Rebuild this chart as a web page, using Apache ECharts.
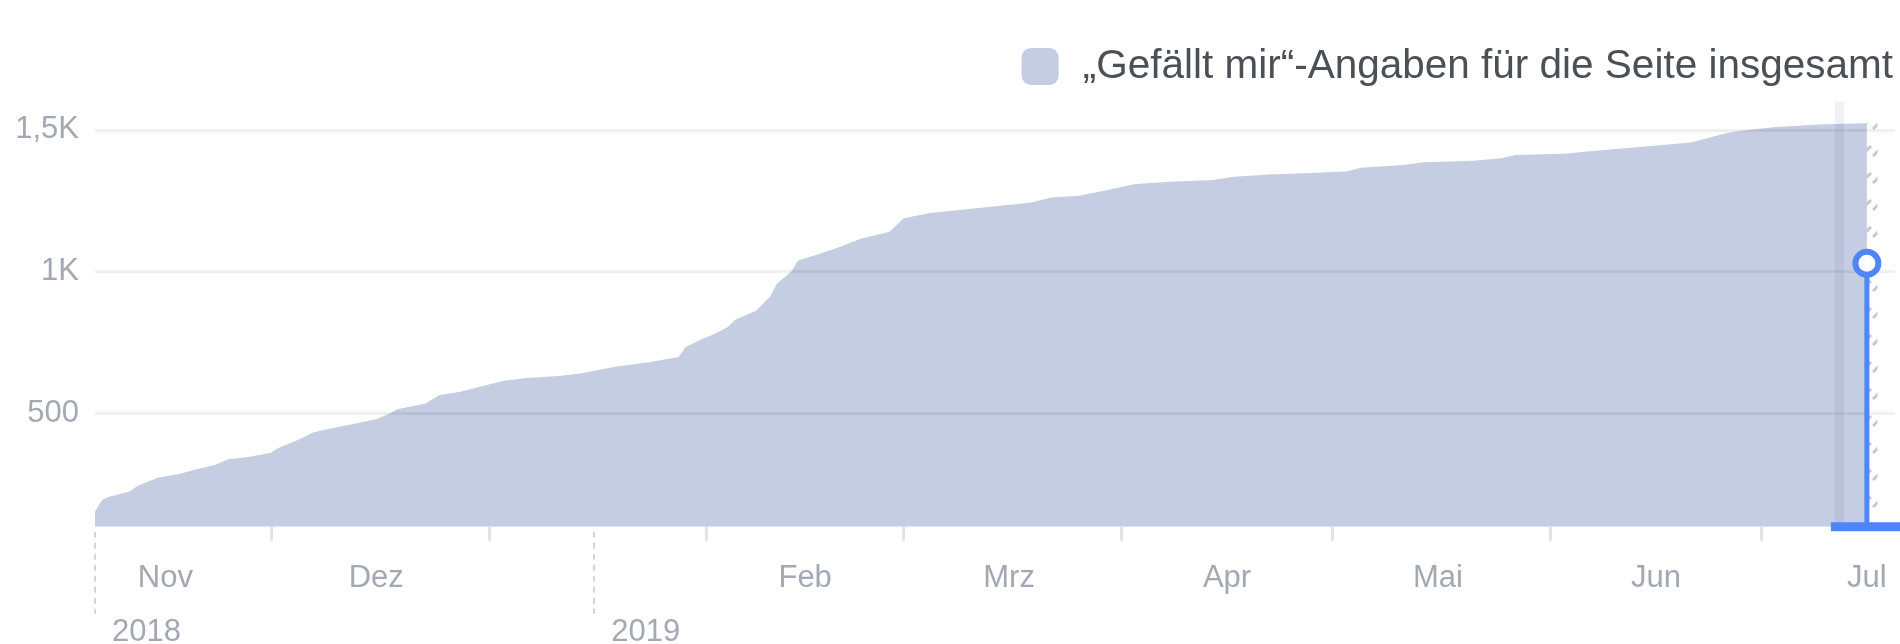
<!DOCTYPE html>
<html>
<head>
<meta charset="utf-8">
<script src="https://cdn.jsdelivr.net/npm/echarts@6/dist/echarts.min.js"></script>
<style>
  html, body { margin: 0; padding: 0; background: #fff; }
  #chart { width: 1900px; height: 644px; }
</style>
</head>
<body>
<div id="chart"></div>
<script>
// total page likes
const dates = [
  '2018-11-06', '2018-11-07', '2018-11-08', '2018-11-09', '2018-11-11', '2018-11-12',
  '2018-11-15', '2018-11-18', '2018-11-20', '2018-11-23', '2018-11-25', '2018-11-28',
  '2018-12-01', '2018-12-02', '2018-12-05', '2018-12-07', '2018-12-09', '2018-12-12',
  '2018-12-16', '2018-12-18', '2018-12-19', '2018-12-23', '2018-12-25', '2018-12-28',
  '2018-12-31', '2019-01-03', '2019-01-06', '2019-01-11', '2019-01-14', '2019-01-19',
  '2019-01-24', '2019-01-28', '2019-01-29', '2019-01-31', '2019-02-02', '2019-02-04',
  '2019-02-05', '2019-02-08', '2019-02-10', '2019-02-11', '2019-02-13', '2019-02-14',
  '2019-02-17', '2019-02-20', '2019-02-23', '2019-02-27', '2019-03-01', '2019-03-05',
  '2019-03-10', '2019-03-14', '2019-03-19', '2019-03-22', '2019-03-26', '2019-03-30',
  '2019-04-03', '2019-04-08', '2019-04-14', '2019-04-17', '2019-04-22', '2019-04-27',
  '2019-05-03', '2019-05-05', '2019-05-11', '2019-05-14', '2019-05-21', '2019-05-25',
  '2019-05-27', '2019-06-03', '2019-06-07', '2019-06-14', '2019-06-21', '2019-06-25',
  '2019-06-27', '2019-07-03', '2019-07-10', '2019-07-16'
]
const likes = [
  153, 195, 206, 212, 225, 244,
  274, 286, 300, 318, 338, 347,
  361, 377, 408, 432, 444, 459,
  479, 500, 514, 535, 565, 576,
  596, 614, 624, 632, 641, 664,
  681, 699, 734, 758, 779, 805,
  829, 862, 911, 958, 1000, 1039,
  1062, 1088, 1117, 1141, 1188, 1208,
  1220, 1231, 1243, 1262, 1268, 1288,
  1309, 1317, 1323, 1335, 1343, 1347,
  1353, 1367, 1376, 1386, 1391, 1400,
  1412, 1416, 1426, 1441, 1456, 1482,
  1494, 1510, 1520, 1524
]

const seriesName = '\u201eGefällt mir\u201c-Angaben für die Seite insgesamt'
const monthStarts = ['2018-12-01', '2019-01-01', '2019-02-01', '2019-03-01', '2019-04-01', '2019-05-01', '2019-06-01', '2019-07-01']
const monthLabelDates = ['2018-11-16', '2018-12-16', '2019-02-15', '2019-03-16', '2019-04-16', '2019-05-16', '2019-06-16', '2019-07-16']
const yearMarks = ['2018-11-06', '2019-01-16']
const monthNames = ['Jan', 'Feb', 'Mrz', 'Apr', 'Mai', 'Jun', 'Jul', 'Aug', 'Sep', 'Okt', 'Nov', 'Dez']
const yTicks = [500, 1000, 1500]
const yTickLabels = ['500', '1K', '1,5K']
const xStart = '2018-11-06'
const xEnd = '2019-07-20'
const hoverDate = '2019-07-12'
const incompleteEnd = '2019-07-17T12:00'
const markerDate = '2019-07-16'
const markerValue = 1030

function day(s) {
  const [d, t] = s.split('T')
  const [y, m, dd] = d.split('-').map(Number)
  const h = t ? Number(t.split(':')[0]) : 0
  return new Date(y, m - 1, dd, h).getTime()
}

// striped fill for the last, not yet complete day
function hatchPattern() {
  const c = document.createElement('canvas')
  c.width = 12
  c.height = 27
  const ctx = c.getContext('2d')
  ctx.strokeStyle = '#bfc7dd'
  ctx.lineWidth = 3
  ctx.beginPath()
  ctx.moveTo(1, 21)
  ctx.lineTo(11, 11)
  ctx.stroke()
  return c
}

const font = "'Liberation Sans', Arial, sans-serif"
const labelColor = '#a3a8b3'
const areaColor = '#c5cde2'
const blue = '#4e86f8'
const lastValue = likes[likes.length - 1]

const chart = echarts.init(document.getElementById('chart'))

const option = {
  animation: false,
  textStyle: { fontFamily: font },
  legend: {
    right: 2,
    top: 41,
    itemWidth: 37,
    itemHeight: 37,
    itemGap: 24,
    textStyle: { fontSize: 40.5, color: '#4b4f56', fontFamily: font, padding: [0, 0, 0, 19] },
    data: [{ name: seriesName, icon: 'roundRect', itemStyle: { color: areaColor, borderWidth: 0 } }],
  },
  grid: { left: 95, right: 5, top: 101.6, bottom: 117.3, outerBoundsMode: 'none', containLabel: false },
  xAxis: [
    {
      type: 'value',
      min: day(xStart),
      max: day(xEnd),
      axisLine: { show: false },
      splitLine: { show: false },
      axisTick: {
        show: true,
        customValues: monthStarts.map(day),
        length: 14,
        lineStyle: { color: '#e2e3e7', width: 3 },
      },
      axisLabel: {
        customValues: monthLabelDates.map(day),
        formatter: (v) => monthNames[new Date(v).getMonth()],
        color: labelColor,
        fontSize: 31,
        margin: 36,
        fontFamily: font,
      },
    },
    {
      type: 'value',
      position: 'bottom',
      offset: 5,
      min: day(xStart),
      max: day(xEnd),
      axisLine: { show: false },
      splitLine: { show: false },
      axisTick: {
        show: true,
        customValues: yearMarks.map(day),
        length: 82,
        lineStyle: { color: '#d3d5da', width: 2, type: [6, 5] },
      },
      axisLabel: {
        customValues: yearMarks.map(day),
        formatter: (v) => String(new Date(v).getFullYear()),
        align: 'left',
        padding: [0, 0, 0, 17],
        color: labelColor,
        fontSize: 31,
        margin: 85,
        fontFamily: font,
      },
    },
  ],
  yAxis: {
    type: 'value',
    min: 100,
    max: 1600,
    z: 5,
    axisLine: { show: false },
    axisTick: { show: false, customValues: yTicks },
    axisLabel: {
      customValues: yTicks,
      formatter: (v) => yTickLabels[yTicks.indexOf(v)],
      color: labelColor,
      fontSize: 31,
      margin: 16,
      fontFamily: font,
    },
    splitLine: { show: true, lineStyle: { color: 'rgba(0,0,0,0.06)', width: 3 } },
  },
  series: [
    {
      name: seriesName,
      type: 'line',
      data: dates.map((d, i) => [day(d), likes[i]]),
      symbol: 'none',
      color: areaColor,
      lineStyle: { width: 0 },
      areaStyle: { color: areaColor, opacity: 1 },
      markLine: {
        silent: true,
        symbol: 'none',
        label: { show: false },
        lineStyle: { color: 'rgba(60,80,140,0.08)', width: 9, type: 'solid' },
        data: [{ xAxis: day(hoverDate) }],
      },
    },
    {
      name: 'incomplete',
      type: 'line',
      data: [[day(markerDate), lastValue], [day(incompleteEnd), lastValue]],
      symbol: 'none',
      lineStyle: { width: 0 },
      areaStyle: { color: { image: hatchPattern(), repeat: 'repeat' }, opacity: 1 },
      silent: true,
    },
    {
      name: 'marker',
      type: 'line',
      z: 10,
      clip: false,
      data: [
        { value: [day(markerDate), 100], symbol: 'rect', symbolSize: [72, 9], itemStyle: { color: blue, borderWidth: 0 } },
        { value: [day(markerDate), markerValue], symbol: 'circle', symbolSize: 23, itemStyle: { color: '#fff', borderColor: blue, borderWidth: 6 } },
      ],
      showAllSymbol: true,
      lineStyle: { color: blue, width: 5 },
      silent: true,
    },
  ],
}

chart.setOption(option)
</script>
</body>
</html>
